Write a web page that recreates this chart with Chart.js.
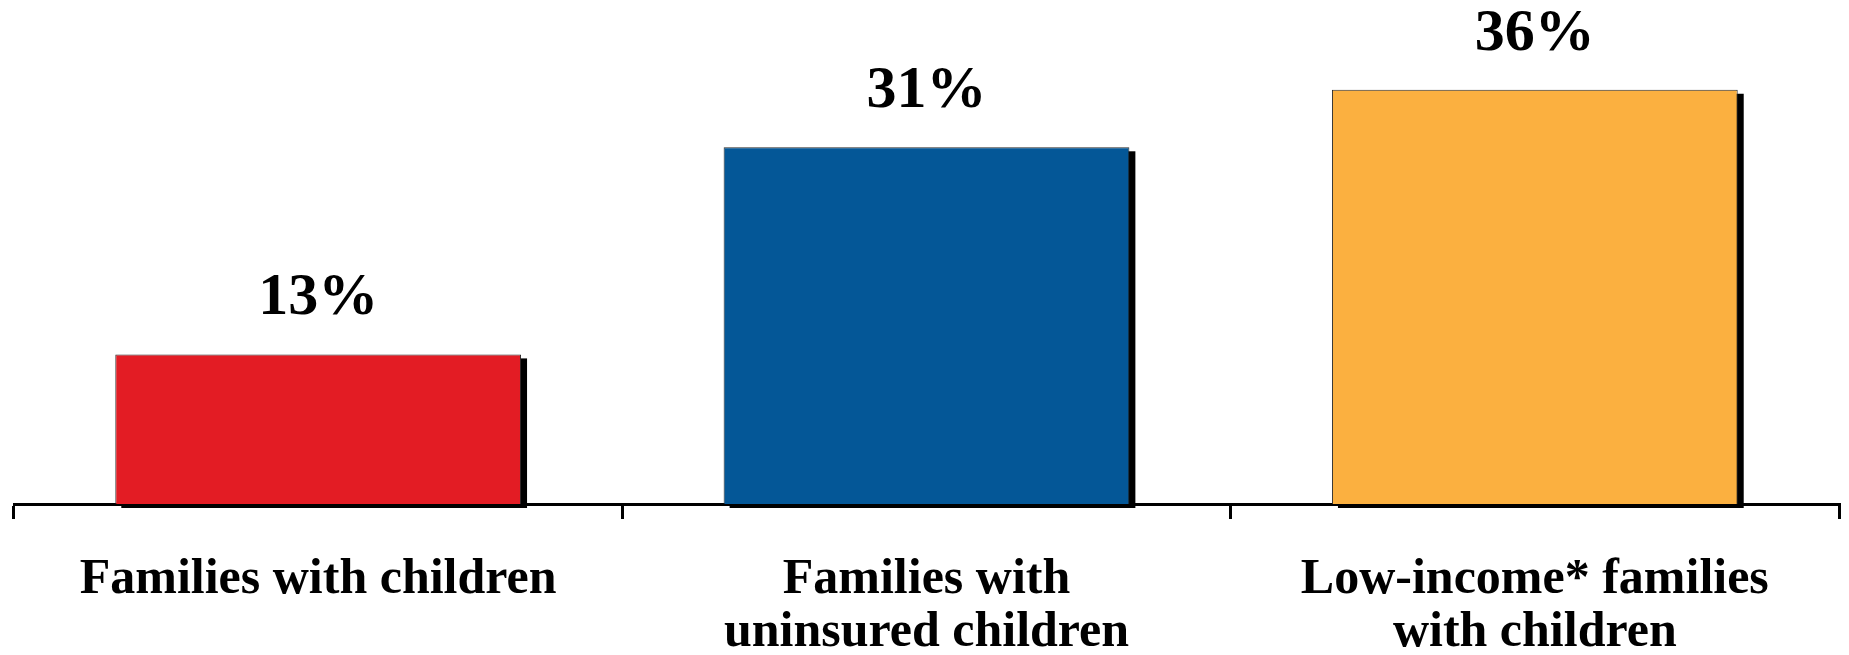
<!DOCTYPE html>
<html>
<head>
<meta charset="utf-8">
<script src="https://cdn.jsdelivr.net/npm/chart.js@4/dist/chart.umd.min.js"></script>
<style>
  html, body { margin: 0; padding: 0; background: #ffffff; }
  #wrap { width: 1849px; height: 655px; position: relative; }
</style>
</head>
<body>
<div id="wrap"><canvas id="c"></canvas></div>
<script>
const categories = [
  ["Families with children"],
  ["Families with", "uninsured children"],
  ["Low-income* families", "with children"]
];
const values = [13, 31, 36];
const valueLabels = ["13%", "31%", "36%"];
const barColors = ["#E31C24", "#045797", "#FBB040"];

const shadowPlugin = {
  id: 'barShadow',
  beforeDatasetsDraw(chart) {
    const ctx = chart.ctx;
    const meta = chart.getDatasetMeta(0);
    ctx.save();
    ctx.fillStyle = '#000000';
    meta.data.forEach((bar) => {
      const p = bar.getProps(['x', 'y', 'width', 'base'], true);
      ctx.fillRect(p.x - p.width / 2 + 6, p.y + 4, p.width, p.base - p.y);
    });
    ctx.restore();
  }
};

const valueLabelPlugin = {
  id: 'valueLabels',
  afterDatasetsDraw(chart) {
    const ctx = chart.ctx;
    const meta = chart.getDatasetMeta(0);
    ctx.save();
    ctx.fillStyle = '#000000';
    ctx.font = 'bold 60px "Liberation Serif", "Times New Roman", serif';
    ctx.textAlign = 'center';
    ctx.textBaseline = 'alphabetic';
    meta.data.forEach((bar, i) => {
      ctx.fillText(valueLabels[i], bar.x, bar.y - 40);
    });
    ctx.restore();
  }
};

new Chart(document.getElementById('c'), {
  type: 'bar',
  data: {
    labels: categories,
    datasets: [{
      data: values,
      backgroundColor: barColors,
      borderColor: '#2a2a2a',
      borderWidth: 1,
      barPercentage: 0.667,
      categoryPercentage: 1.0,
      clip: false
    }]
  },
  options: {
    responsive: true,
    maintainAspectRatio: false,
    animation: false,
    layout: { padding: { left: 14, right: 10, top: 0, bottom: 0 } },
    plugins: {
      legend: { display: false },
      tooltip: { enabled: false },
      title: { display: false }
    },
    scales: {
      x: {
        offset: true,
        grid: {
          display: true,
          offset: true,
          drawOnChartArea: false,
          drawTicks: true,
          tickLength: 15,
          lineWidth: 3,
          color: '#000000'
        },
        border: { display: true, color: '#000000', width: 3 },
        ticks: {
          color: '#000000',
          padding: 35,
          maxRotation: 0,
          autoSkip: false,
          font: { family: '"Liberation Serif", "Times New Roman", serif', size: 50, weight: 'bold', lineHeight: 1.06 }
        },
        afterFit(scale) { scale.height = 151; }
      },
      y: {
        display: false,
        min: 0,
        max: 43.8
      }
    }
  },
  plugins: [shadowPlugin, valueLabelPlugin]
});
</script>
</body>
</html>
